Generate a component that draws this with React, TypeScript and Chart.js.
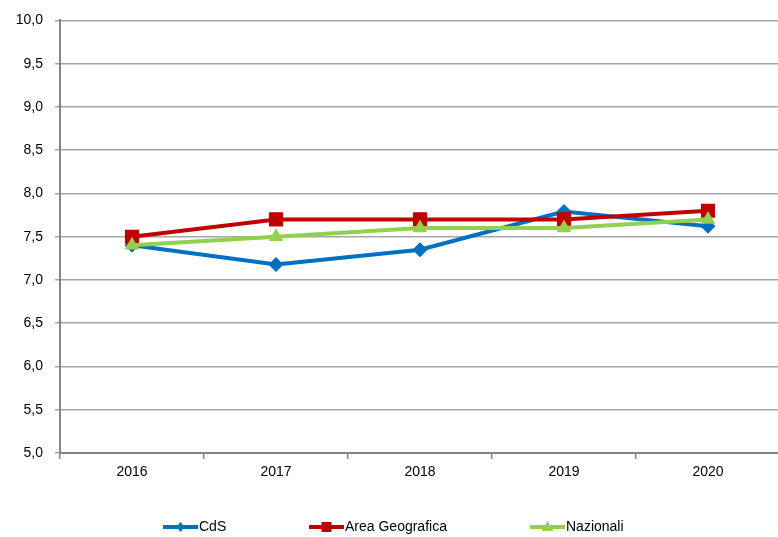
import React, { useEffect, useRef } from "react";
import { Chart, registerables } from "chart.js";

Chart.register(...registerables);

const years = ["2016", "2017", "2018", "2019", "2020"];
const cds = [7.4, 7.18, 7.35, 7.79, 7.62];
const areaGeografica = [7.5, 7.7, 7.7, 7.7, 7.8];
const nazionali = [7.4, 7.5, 7.6, 7.6, 7.7];
const seriesNames = ["CdS", "Area Geografica", "Nazionali"];
const yMin = 5;
const yMax = 10;
const yStep = 0.5;

const FONT = "'Liberation Sans', Arial, sans-serif";

const legendPlugin = {
  id: "customLegend",
  afterDraw(chart: any) {
    const ctx = chart.ctx;
    const positions = [163, 309, 530];
    const y = 527;
    ctx.save();
    chart.data.datasets.forEach((ds: any, i: number) => {
      const x = positions[i];
      ctx.strokeStyle = ds.borderColor;
      ctx.lineWidth = 4;
      ctx.beginPath();
      ctx.moveTo(x, y);
      ctx.lineTo(x + 35, y);
      ctx.stroke();
      ctx.fillStyle = ds.borderColor;
      const cx = x + 17.5;
      ctx.beginPath();
      if (ds.pointStyle === "rectRot") {
        ctx.moveTo(cx, y - 5);
        ctx.lineTo(cx + 4, y);
        ctx.lineTo(cx, y + 5);
        ctx.lineTo(cx - 4, y);
      } else if (ds.pointStyle === "rect") {
        ctx.rect(cx - 5, y - 5, 10, 10);
      } else {
        ctx.moveTo(cx, y - 6);
        ctx.lineTo(cx + 6, y + 4);
        ctx.lineTo(cx - 6, y + 4);
      }
      ctx.closePath();
      ctx.fill();
      ctx.fillStyle = "#000";
      ctx.font = `14px ${FONT}`;
      ctx.textBaseline = "middle";
      ctx.textAlign = "left";
      ctx.fillText(ds.label, x + 36, y);
    });
    ctx.restore();
  },
};

export default function App() {
  const ref = useRef<HTMLCanvasElement>(null);
  useEffect(() => {
    document.body.style.margin = "0";
    document.body.style.overflow = "hidden";
    const chart = new Chart(ref.current!, {
      type: "line",
      data: {
        labels: years,
        datasets: [
          {
            label: seriesNames[0],
            data: cds,
            order: 3,
            borderColor: "#0070C0",
            backgroundColor: "#0070C0",
            borderWidth: 4,
            pointStyle: "rectRot",
            pointRadius: 7.5,
            pointBorderWidth: 0,
            pointHoverRadius: 7.5,
            tension: 0,
          },
          {
            label: seriesNames[1],
            data: areaGeografica,
            order: 2,
            borderColor: "#C00000",
            backgroundColor: "#C00000",
            borderWidth: 4,
            pointStyle: "rect",
            pointRadius: 10,
            pointBorderWidth: 0,
            pointHoverRadius: 10,
            tension: 0,
          },
          {
            label: seriesNames[2],
            data: nazionali,
            order: 1,
            borderColor: "#92D050",
            backgroundColor: "#92D050",
            borderWidth: 4,
            pointStyle: "triangle",
            pointRadius: 8.5,
            pointBorderWidth: 0,
            pointHoverRadius: 8.5,
            tension: 0,
          },
        ],
      },
      options: {
        animation: false,
        responsive: false,
        layout: { padding: { top: 13, right: 0, left: 0, bottom: 0 } },
        plugins: { legend: { display: false }, tooltip: { enabled: false } },
        scales: {
          x: {
            offset: true,
            grid: {
              offset: true,
              drawOnChartArea: false,
              drawTicks: true,
              tickLength: 6,
              color: "#868686",
              lineWidth: 1.5,
            },
            border: { color: "#868686", width: 2 },
            ticks: {
              color: "#000",
              font: { family: FONT, size: 14 },
              padding: 5,
            },
            afterFit(scale: any) {
              scale.height = 84;
            },
          },
          y: {
            min: yMin,
            max: yMax,
            grid: {
              color: "#a6a6a6",
              lineWidth: 1.5,
              drawTicks: true,
              tickLength: 5,
            },
            border: { color: "#868686", width: 2 },
            ticks: {
              stepSize: yStep,
              color: "#000",
              font: { family: FONT, size: 14 },
              padding: 12,
              callback: (v: any) => Number(v).toFixed(1).replace(".", ","),
            },
            afterFit(scale: any) {
              scale.width = 60;
            },
          },
        },
      },
      plugins: [legendPlugin],
    });
    return () => chart.destroy();
  }, []);
  return (
    <div style={{ width: 778, height: 537, overflow: "hidden" }}>
      <canvas ref={ref} width={790} height={537} style={{ display: "block" }} />
    </div>
  );
}
